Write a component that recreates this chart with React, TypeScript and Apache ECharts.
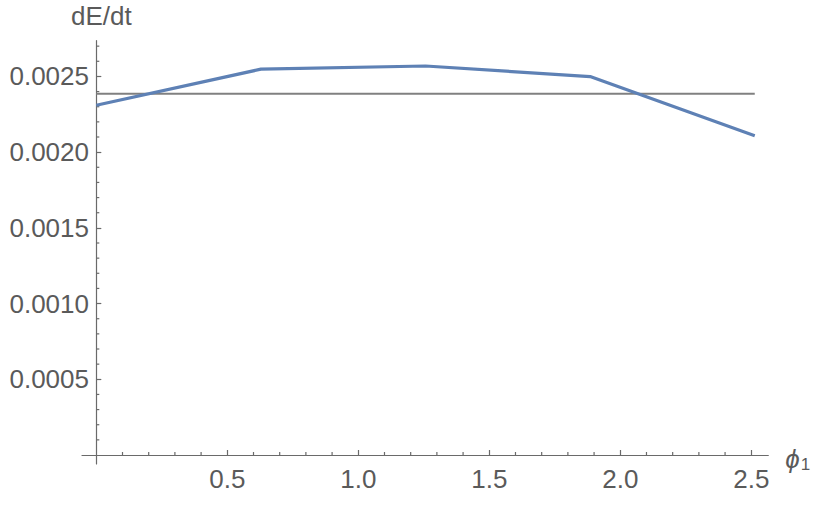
import React, { useEffect, useRef } from "react";
import * as echarts from "echarts";

// phi_1 sample points (multiples of pi/5) and dE/dt values
const phi = [0, 0.6283, 1.2566, 1.885, 2.5133];
const dEdt = [0.00231, 0.002548, 0.002569, 0.002499, 0.002109];
// horizontal reference level
const refX = [0, 2.5133];
const refY = [0.002386, 0.002386];

// axes
const xRange = [-0.0546, 2.565];
const yRange = [-0.0000594, 0.002736];
const xTicks = [0.5, 1.0, 1.5, 2.0, 2.5];
const xMinorTicks = [
  0.1, 0.2, 0.3, 0.4, 0.6, 0.7, 0.8, 0.9, 1.1, 1.2, 1.3, 1.4, 1.6, 1.7, 1.8,
  1.9, 2.1, 2.2, 2.3, 2.4,
];
const yTicks = [0.0005, 0.001, 0.0015, 0.002, 0.0025];
const yMinorTicks = [
  0.0001, 0.0002, 0.0003, 0.0004, 0.0006, 0.0007, 0.0008, 0.0009, 0.0011,
  0.0012, 0.0013, 0.0014, 0.0016, 0.0017, 0.0018, 0.0019, 0.0021, 0.0022,
  0.0023, 0.0024, 0.0026, 0.0027,
];

const AXIS = "#6a6a6a";
const TEXT = "#5a5a5a";
const FONT = "Liberation Sans";

export default function App() {
  const ref = useRef<HTMLDivElement>(null);
  useEffect(() => {
    if (!ref.current) return;
    const chart = echarts.init(ref.current, undefined, { renderer: "svg" });
    const option: any = {
      animation: false,
      backgroundColor: "#ffffff",
      grid: {
        left: 82,
        right: 61.7,
        top: 40.7,
        bottom: 46,
        outerBoundsMode: "none",
      },
      xAxis: {
        type: "value",
        min: xRange[0],
        max: xRange[1],
        name: "{p|ϕ}{s|1}",
        nameLocation: "end",
        nameGap: 17,
        nameTextStyle: {
          rich: {
            p: { fontFamily: FONT, fontStyle: "italic", fontSize: 26, color: TEXT, padding: [8, 0, 0, 0] },
            s: { fontFamily: FONT, fontSize: 17, color: TEXT, padding: [18, 0, 0, 1] },
          },
        },
        axisLine: { onZero: true, lineStyle: { color: AXIS, width: 1.2 } },
        axisTick: {
          show: true,
          inside: true,
          length: 5,
          customValues: xTicks,
          lineStyle: { color: AXIS, width: 1.2 },
        },
        axisLabel: {
          customValues: xTicks,
          margin: 2,
          fontFamily: FONT,
          fontSize: 26,
          color: TEXT,
          formatter: (v: number) => v.toFixed(1),
        },
        splitLine: { show: false },
      },
      yAxis: {
        type: "value",
        min: yRange[0],
        max: yRange[1],
        name: "dE/dt",
        nameLocation: "end",
        nameGap: 12,
        nameTextStyle: { fontFamily: FONT, fontSize: 26, color: TEXT, align: "center", padding: [0, 0, 0, 10] },
        axisLine: { onZero: true, lineStyle: { color: AXIS, width: 1.2 } },
        axisTick: {
          show: true,
          inside: true,
          length: 5,
          customValues: yTicks,
          lineStyle: { color: AXIS, width: 1.2 },
        },
        axisLabel: {
          customValues: yTicks,
          margin: -7,
          fontFamily: FONT,
          fontSize: 26,
          color: TEXT,
          formatter: (v: number) => v.toFixed(4),
        },
        splitLine: { show: false },
      },
      series: [
        {
          type: "line",
          data: refX.map((x, i) => [x, refY[i]]),
          showSymbol: false,
          symbol: "none",
          lineStyle: { color: "#808080", width: 2 },
          z: 3,
        },
        {
          type: "line",
          data: phi.map((x, i) => [x, dEdt[i]]),
          showSymbol: false,
          symbol: "none",
          lineStyle: { color: "#5e81b5", width: 3.2 },
          z: 4,
        },
        {
          type: "custom",
          silent: true,
          clip: false,
          data: xMinorTicks.map((v) => [v, 0]),
          renderItem: (params: any, api: any) => {
            const p = api.coord([api.value(0), api.value(1)]);
            return {
              type: "line",
              shape: { x1: p[0], y1: p[1], x2: p[0], y2: p[1] - 3 },
              style: { stroke: AXIS, lineWidth: 1.2 },
            };
          },
          z: 2,
        },
        {
          type: "custom",
          silent: true,
          clip: false,
          data: yMinorTicks.map((v) => [0, v]),
          renderItem: (params: any, api: any) => {
            const p = api.coord([api.value(0), api.value(1)]);
            return {
              type: "line",
              shape: { x1: p[0], y1: p[1], x2: p[0] + 3, y2: p[1] },
              style: { stroke: AXIS, lineWidth: 1.2 },
            };
          },
          z: 2,
        },
      ],
    };
    chart.setOption(option);
    return () => chart.dispose();
  }, []);
  return (
    <div
      ref={ref}
      style={{ position: "fixed", left: 0, top: 0, width: 830, height: 510 }}
    />
  );
}
